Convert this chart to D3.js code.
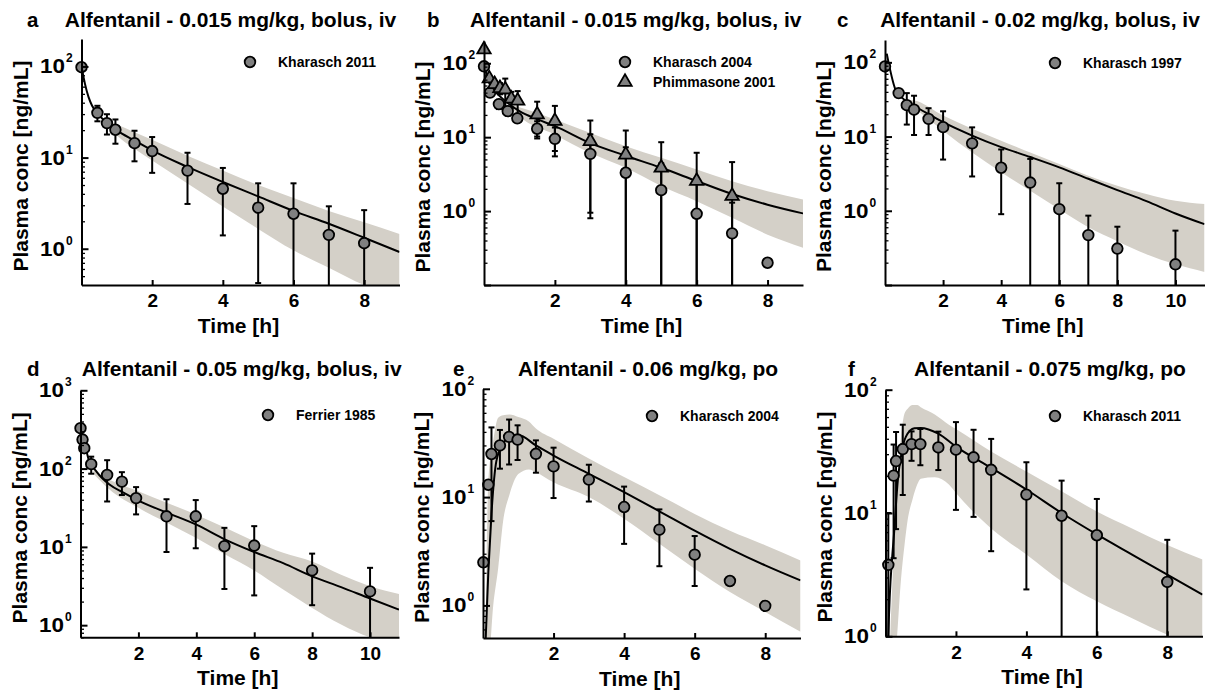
<!DOCTYPE html>
<html>
<head>
<meta charset="utf-8">
<script src="https://cdn.jsdelivr.net/npm/d3@7"></script>
<style>
  body { margin: 0; background: #fff; }
  text { font-family: "Liberation Sans", Arial, sans-serif; font-weight: bold; fill: #000; }
</style>
</head>
<body>
<svg id="chart" width="1215" height="695"></svg>
<script>
// ---- panel a: 0.015 mg/kg bolus iv, Kharasch 2011
const aObsT = [0, 0.45, 0.72, 0.96, 1.5, 2, 3, 4, 5, 6, 7, 8];
const aObsY = [98, 31, 23.9, 20.2, 14.4, 11.8, 7.2, 4.55, 2.82, 2.42, 1.42, 1.15];
const aObsSd = [0, 6, 6, 6, 5.3, 5, 4.1, 3.15, 2.4, 2.8, 1.5, 1.5];
const aSimT = [0, 0.1, 0.2, 0.3, 0.5, 0.75, 1, 1.5, 2, 3, 4, 5, 6, 7, 8, 9];
const aSimY = [100, 64, 46, 37, 29, 23.5, 19.9, 15.4, 12, 7.9, 5.4, 3.75, 2.6, 1.88, 1.32, 0.92];
const aBandT = [0.75, 1, 1.5, 2, 3, 4, 5, 6, 7, 8, 9];
const aBandLo = [22, 17.5, 12.5, 9.3, 5.2, 2.9, 1.65, 0.96, 0.62, 0.4, 0.3];
const aBandHi = [25, 23, 19, 15.7, 10.5, 7.2, 5.0, 3.6, 2.6, 1.95, 1.45];

// ---- panel b: 0.015 mg/kg bolus iv, Kharasch 2004 + Phimmasone 2001
const bObsT = [0, 0.17, 0.42, 0.67, 0.94, 1.5, 2, 3, 4, 5, 6, 7, 8];
const bObsY = [91, 40, 28, 22.5, 18, 13, 9.5, 5.95, 3.3, 1.92, 0.92, 0.5, 0.2];
const bObsSd = [0, 4, 4, 3, 2, 3.4, 4, 5, 4, 2.5, 1.5, 0.8, 0];
const bObs2T = [0, 0.15, 0.3, 0.45, 0.6, 0.77, 0.95, 1.5, 2, 3, 4, 5, 6, 7];
const bObs2Y = [153, 62, 52, 46, 44, 33, 31, 20.2, 16.5, 8.8, 5.8, 3.85, 2.55, 1.6];
const bObs2Sd = [0, 0, 5, 8, 18, 8, 11, 10, 10, 8, 6.5, 4.7, 3.6, 3.0];
const bSimT = [0, 0.1, 0.2, 0.3, 0.5, 0.75, 1, 1.5, 2, 3, 4, 5, 6, 7, 8, 9];
const bSimY = [100, 62, 48, 42, 34, 27, 22.5, 17.5, 14.1, 8.3, 5.6, 3.85, 2.55, 1.7, 1.22, 0.93];
const bBandT = [0.8, 1, 2, 3, 4, 5, 6, 7, 8, 9];
const bBandLo = [24, 19.2, 10.8, 6.1, 3.85, 2.18, 1.36, 0.81, 0.48, 0.32];
const bBandHi = [27, 25.4, 17.3, 11.4, 7.55, 5.25, 3.66, 2.54, 1.86, 1.44];

// ---- panel c: 0.02 mg/kg bolus iv, Kharasch 1997
const cObsT = [0, 0.47, 0.75, 1, 1.5, 2, 3, 4, 5, 6, 7, 8, 10];
const cObsY = [88, 38.5, 26.5, 23, 17.3, 13.4, 8.1, 3.8, 2.4, 1.05, 0.47, 0.31, 0.19];
const cObsSd = [0, 0, 12, 12.5, 6.8, 8.5, 5.2, 2.9, 2.6, 1.3, 0.39, 0.3, 0.35];
const cSimT = [0.06, 0.35, 0.6, 1, 1.5, 2, 3, 4, 5, 6, 7, 8, 9, 10, 11];
const cSimY = [131, 44, 33, 26, 20, 15.6, 10.3, 7.2, 5.3, 3.85, 2.7, 1.9, 1.35, 0.92, 0.66];
const cBandT = [0.85, 1, 2, 3, 4, 5, 6, 7, 8, 9, 10, 11];
const cBandLo = [28, 24.9, 12, 6.1, 3.3, 1.86, 1.05, 0.6, 0.39, 0.26, 0.19, 0.15];
const cBandHi = [31, 30.6, 19.2, 12.7, 8.8, 6.1, 4.27, 2.97, 2.18, 1.68, 1.36, 1.23];

// ---- panel d: 0.05 mg/kg bolus iv, Ferrier 1985
const dObsT = [0, 0.07, 0.13, 0.37, 0.92, 1.43, 1.92, 2.97, 3.98, 4.97, 6, 8, 10];
const dObsY = [328, 235, 182, 114, 83, 68, 42, 24.6, 24.6, 10.2, 10.4, 5.0, 2.7];
const dObsSd = [0, 0, 10, 28, 45, 22, 16, 16, 15, 7.3, 8, 3.2, 2.7];
const dSimT = [0, 0.1, 0.27, 0.56, 1, 1.5, 2, 3, 4, 5, 6, 7, 8, 9, 10, 11];
const dSimY = [330, 255, 135, 91, 62.6, 49, 39, 27.2, 19.2, 12.4, 8.6, 6.2, 4.2, 3.06, 2.19, 1.58];
const dBandT = [0.45, 1, 2, 3, 4, 5, 6, 7, 8, 9, 10, 11];
const dBandLo = [85, 54, 31.5, 20.2, 13, 8, 5, 2.85, 1.66, 1.02, 0.7, 0.6];
const dBandHi = [95, 72, 51.5, 36.4, 25.8, 17.5, 11.8, 8.4, 6.5, 4.4, 3.15, 2.5];

// ---- panel e: 0.06 mg/kg po, Kharasch 2004
const eObsT = [0.01, 0.15, 0.24, 0.48, 0.74, 0.98, 1.5, 2, 3, 4, 5, 6, 7, 8];
const eObsY = [2.5, 13, 25, 30, 36, 34, 25.1, 19.2, 14.5, 8.1, 5.0, 2.94, 1.68, 0.99];
const eObsSd = [0, 0, 19, 11.7, 16, 12, 8.3, 9.4, 5.4, 4.4, 2.7, 1.43, 0, 0];
const eSimT = [0.05, 0.15, 0.24, 0.38, 0.57, 0.8, 1.0, 1.5, 2, 3, 4, 5, 6, 7, 8, 9];
const eSimY = [0.3, 2, 7, 21.6, 31, 36.8, 37.5, 30, 24.2, 16.4, 11.1, 7.4, 4.9, 3.33, 2.34, 1.7];
const eBandT = [0.07, 0.15, 0.29, 0.43, 0.57, 0.75, 1.0, 1.3, 1.5, 2, 3, 4, 5, 6, 7, 8, 9];
const eBandLo = [0.3, 0.3, 1.0, 2.2, 6.0, 10.5, 16.3, 18, 17, 13.7, 10, 6.3, 3.7, 2.18, 1.33, 0.87, 0.57];
const eBandHi = [0.4, 14, 33, 54, 57, 58, 55, 50, 43, 34.6, 22.7, 15.3, 10.4, 7.0, 4.9, 3.6, 2.6];

// ---- panel f: 0.075 mg/kg po, Kharasch 2011
const fObsT = [0.08, 0.23, 0.3, 0.49, 0.74, 0.99, 1.5, 2, 2.5, 3, 4, 5, 6, 8];
const fObsY = [3.8, 20.1, 26.4, 33, 36.2, 36.2, 34, 32.6, 28.3, 22.4, 14.1, 9.5, 6.6, 2.76];
const fObsSd = [6.2, 15.8, 19, 19, 9.7, 11.8, 11.7, 22, 19, 17.5, 11.7, 8.8, 6.4, 3.3];
const fSimT = [0.05, 0.1, 0.25, 0.35, 0.45, 0.58, 0.82, 1.0, 1.5, 2, 3, 4, 5, 6, 7, 8, 9];
const fSimY = [0.5, 1.5, 7.3, 18.5, 30, 41.6, 48.6, 49, 44, 34.5, 23.2, 15.5, 10, 6.7, 4.6, 3.16, 2.18];
const fBandT = [0.12, 0.2, 0.3, 0.44, 0.54, 0.63, 0.77, 0.9, 1.0, 1.4, 1.8, 2, 3, 4, 5, 6, 7, 8, 9];
const fBandLo = [0.5, 0.5, 0.8, 2.9, 5.5, 8.8, 13, 17, 19, 19.5, 17, 14.5, 7.5, 4.6, 2.8, 1.92, 1.4, 1.03, 0.8];
const fBandHi = [0.8, 3, 12.7, 41.6, 64, 70, 75, 75, 72, 63, 52, 48, 31.6, 21.7, 15, 10.3, 7.5, 5.5, 4.2];

const bandColor = "#d4d0c8";
const markerFill = "#808080";

const panels = [
  { id: "a", title: "Alfentanil - 0.015 mg/kg, bolus, iv", left: 81.5, top: 39, width: 318, height: 246,
    xMax: 9, yDomain: [0.4, 200], xTicks: [2, 4, 6, 8], titleX: 230.5, letterX: 27, legendX: 250, legendY: 62,
    simT: aSimT, simY: aSimY, bandT: aBandT, bandLo: aBandLo, bandHi: aBandHi,
    obs: [{ name: "Kharasch 2011", shape: "circle", t: aObsT, y: aObsY, sd: aObsSd }] },
  { id: "b", title: "Alfentanil - 0.015 mg/kg, bolus, iv", left: 484, top: 41, width: 319, height: 244,
    xMax: 9, yDomain: [0.1, 200], xTicks: [2, 4, 6, 8], titleX: 635.7, letterX: 427, legendX: 625, legendY: 62,
    simT: bSimT, simY: bSimY, bandT: bBandT, bandLo: bBandLo, bandHi: bBandHi,
    obs: [{ name: "Kharasch 2004", shape: "circle", t: bObsT, y: bObsY, sd: bObsSd },
          { name: "Phimmasone 2001", shape: "triangle", t: bObs2T, y: bObs2Y, sd: bObs2Sd }] },
  { id: "c", title: "Alfentanil - 0.02 mg/kg, bolus, iv", left: 885, top: 40, width: 319.5, height: 245,
    xMax: 11, yDomain: [0.1, 200], xTicks: [2, 4, 6, 8, 10], titleX: 1040, letterX: 837, legendX: 1055, legendY: 63,
    simT: cSimT, simY: cSimY, bandT: cBandT, bandLo: cBandLo, bandHi: cBandHi,
    obs: [{ name: "Kharasch 1997", shape: "circle", t: cObsT, y: cObsY, sd: cObsSd }] },
  { id: "d", title: "Alfentanil - 0.05 mg/kg, bolus, iv", left: 80.5, top: 390.3, width: 318.5, height: 247,
    xMax: 11, yDomain: [0.7, 1000], xTicks: [2, 4, 6, 8, 10], titleX: 241.7, letterX: 27, legendX: 268, legendY: 415,
    simT: dSimT, simY: dSimY, bandT: dBandT, bandLo: dBandLo, bandHi: dBandHi,
    obs: [{ name: "Ferrier 1985", shape: "circle", t: dObsT, y: dObsY, sd: dObsSd }] },
  { id: "e", title: "Alfentanil - 0.06 mg/kg, po", left: 483, top: 388.8, width: 317.5, height: 249.2,
    xMax: 9, yDomain: [0.5, 100], xTicks: [2, 4, 6, 8], titleX: 648, letterX: 453, legendX: 652, legendY: 416,
    simT: eSimT, simY: eSimY, bandT: eBandT, bandLo: eBandLo, bandHi: eBandHi,
    obs: [{ name: "Kharasch 2004", shape: "circle", t: eObsT, y: eObsY, sd: eObsSd }] },
  { id: "f", title: "Alfentanil - 0.075 mg/kg, po", left: 885.5, top: 389.7, width: 317, height: 246.6,
    xMax: 9, yDomain: [1, 100], xTicks: [2, 4, 6, 8], titleX: 1050, letterX: 848, legendX: 1055, legendY: 416,
    simT: fSimT, simY: fSimY, bandT: fBandT, bandLo: fBandLo, bandHi: fBandHi,
    obs: [{ name: "Kharasch 2011", shape: "circle", t: fObsT, y: fObsY, sd: fObsSd }] }
];

const svg = d3.select("#chart");
const defs = svg.append("defs");

function drawMarker(sel, shape, cx, cy) {
  if (shape === "triangle") {
    sel.append("path")
      .attr("d", d3.symbol(d3.symbolTriangle, 78)())
      .attr("transform", `translate(${cx},${cy})`)
      .attr("fill", markerFill).attr("stroke", "#000").attr("stroke-width", 1.8);
  } else {
    sel.append("circle")
      .attr("cx", cx).attr("cy", cy).attr("r", 5.3)
      .attr("fill", markerFill).attr("stroke", "#000").attr("stroke-width", 1.8);
  }
}

function drawPanel(p) {
  const x = d3.scaleLinear().domain([0, p.xMax]).range([p.left, p.left + p.width]);
  const y = d3.scaleLog().domain(p.yDomain).range([p.top + p.height, p.top]);
  const g = svg.append("g").attr("class", "panel-" + p.id);

  defs.append("clipPath").attr("id", "clip-" + p.id)
    .append("rect")
    .attr("x", p.left).attr("y", p.top)
    .attr("width", p.width).attr("height", p.height);

  const plot = g.append("g").attr("clip-path", `url(#clip-${p.id})`);

  // prediction interval band
  const band = p.bandT.map((t, i) => ({ t: t, lo: p.bandLo[i], hi: p.bandHi[i] }));
  plot.append("path")
    .datum(band)
    .attr("d", d3.area()
      .x(d => x(d.t))
      .y0(d => y(d.lo))
      .y1(d => y(d.hi))
      .curve(d3.curveMonotoneX))
    .attr("fill", bandColor);

  // simulated median
  const sim = p.simT.map((t, i) => ({ t: t, v: p.simY[i] }));
  plot.append("path")
    .datum(sim)
    .attr("d", d3.line().x(d => x(d.t)).y(d => y(d.v)).curve(d3.curveMonotoneX))
    .attr("fill", "none").attr("stroke", "#000").attr("stroke-width", 2);

  // error bars (mean +/- sd), clipped at the axis
  const yMin = p.yDomain[0], yMax = p.yDomain[1];
  const capW = 3;
  p.obs.forEach(s => {
    s.t.forEach((t, i) => {
      const sd = s.sd[i];
      if (!(sd > 0)) return;
      const lo = s.y[i] - sd, hi = s.y[i] + sd;
      const yLo = lo > yMin ? y(lo) : y(yMin);
      const yHi = y(Math.min(hi, yMax));
      const cx = x(t);
      g.append("line").attr("x1", cx).attr("x2", cx).attr("y1", yLo).attr("y2", yHi)
        .attr("stroke", "#000").attr("stroke-width", 2);
      g.append("line").attr("x1", cx - capW).attr("x2", cx + capW).attr("y1", yHi).attr("y2", yHi)
        .attr("stroke", "#000").attr("stroke-width", 2);
      if (lo > yMin) {
        g.append("line").attr("x1", cx - capW).attr("x2", cx + capW).attr("y1", yLo).attr("y2", yLo)
          .attr("stroke", "#000").attr("stroke-width", 2);
      }
    });
  });

  // observed means
  p.obs.forEach(s => {
    s.t.forEach((t, i) => drawMarker(g, s.shape, x(t), y(s.y[i])));
  });

  // axes
  const lo10 = Math.floor(Math.log10(yMin)), hi10 = Math.ceil(Math.log10(yMax));
  const majors = [], minors = [];
  for (let k = lo10; k <= hi10; k++) {
    const v = Math.pow(10, k);
    if (v >= yMin * 0.999 && v <= yMax * 1.001) majors.push(v);
    for (let m = 2; m <= 9; m++) {
      const mv = m * v;
      if (mv > yMin && mv < yMax) minors.push(mv);
    }
  }

  const yAxisMinor = g.append("g")
    .attr("transform", `translate(${p.left},0)`)
    .call(d3.axisLeft(y).tickValues(minors).tickSize(-3.5).tickSizeOuter(0).tickFormat(""));
  yAxisMinor.select(".domain").remove();

  const yAxis = g.append("g")
    .attr("transform", `translate(${p.left},0)`)
    .call(d3.axisLeft(y).tickValues(majors).tickSize(-7).tickSizeOuter(0).tickFormat(""));

  const xAxis = g.append("g")
    .attr("transform", `translate(0,${p.top + p.height})`)
    .call(d3.axisBottom(x).tickValues(p.xTicks).tickSize(-5).tickSizeOuter(0).tickPadding(9));

  [yAxis, yAxisMinor, xAxis].forEach(a => {
    a.selectAll("path, line").attr("stroke", "#000").attr("stroke-width", 2);
  });
  yAxisMinor.selectAll("line").attr("stroke-width", 1.3);
  xAxis.selectAll("text")
    .attr("font-family", "Liberation Sans, Arial, sans-serif")
    .attr("font-weight", "bold").attr("font-size", 19).attr("fill", "#000");

  // y tick labels 10^k, skip the decade sitting at the bottom when below 10^0
  majors.forEach(v => {
    const k = Math.round(Math.log10(v));
    if (k < 0) return;
    const ty = y(v);
    g.append("text").attr("x", p.left - 16.5).attr("y", ty + 7)
      .attr("text-anchor", "end").attr("font-size", 20).attr("textLength", 25)
      .attr("lengthAdjust", "spacingAndGlyphs").text("10");
    g.append("text").attr("x", p.left - 15.5).attr("y", ty - 4)
      .attr("font-size", 12).text(k);
  });

  // axis titles
  g.append("text")
    .attr("transform", `translate(${p.left - 54},${p.top + p.height / 2 + 4}) rotate(-90)`)
    .attr("text-anchor", "middle").attr("font-size", 21)
    .text("Plasma conc [ng/mL]");
  g.append("text")
    .attr("x", p.left + p.width / 2 - 2).attr("y", p.top + p.height + 48)
    .attr("text-anchor", "middle").attr("font-size", 21)
    .text("Time [h]");

  // panel title and letter
  const titleY = p.top < 200 ? 27 : 376;
  g.append("text").attr("x", p.titleX).attr("y", titleY)
    .attr("text-anchor", "middle").attr("font-size", 21).text(p.title);
  g.append("text").attr("x", p.letterX).attr("y", titleY)
    .attr("font-size", 20.5).text(p.id);

  // legend
  p.obs.forEach((s, i) => {
    const ly = p.legendY + i * 20;
    drawMarker(g, s.shape, p.legendX, ly);
    g.append("text").attr("x", p.legendX + 28).attr("y", ly + 5)
      .attr("font-size", 14).text(s.name);
  });
}

panels.forEach(drawPanel);
</script>
</body>
</html>
